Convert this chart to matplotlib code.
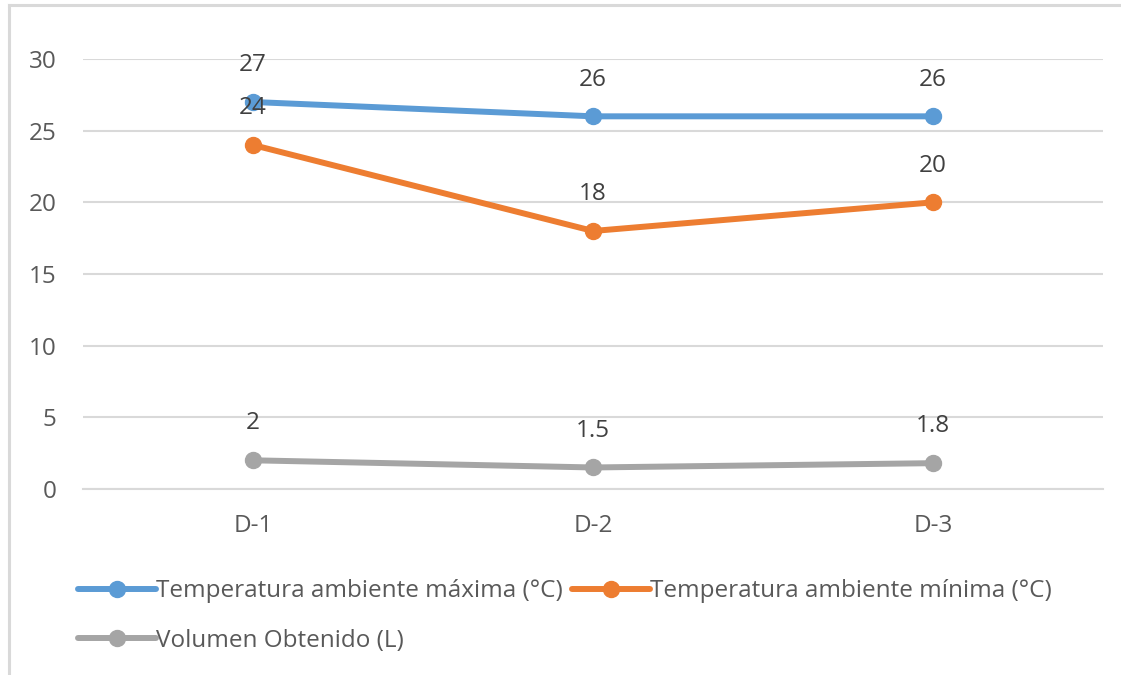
import matplotlib.pyplot as plt
from matplotlib.lines import Line2D

plt.rcParams['font.family'] = ['Open Sans', 'DejaVu Sans']

dias = ["D-1", "D-2", "D-3"]
temp_max = [27, 26, 26]
temp_min = [24, 18, 20]
volumen = [2, 1.5, 1.8]
etiquetas_vol = ["2", "1.5", "1.8"]

nombres = ["Temperatura ambiente máxima (°C)",
           "Temperatura ambiente mínima (°C)",
           "Volumen Obtenido (L)"]
colores = ["#5B9BD5", "#ED7D31", "#A5A5A5"]
txt = "#595959"
fs = 17.5

fig = plt.figure(figsize=(11.21, 6.75), dpi=100)
ax = fig.add_axes([0.074, 0.2756, 0.910, 0.637])

x = list(range(len(dias)))
series = [temp_max, temp_min, volumen]
labels = [[str(v) for v in temp_max], [str(v) for v in temp_min], etiquetas_vol]
handles = []
for ys, c, n, lab in zip(series, colores, nombres, labels):
    h, = ax.plot(x, ys, color=c, lw=4.3, marker='o', ms=11.5, label=n,
                 solid_capstyle='round', zorder=3)
    handles.append(h)
    for xi, yi, t in zip(x, ys, lab):
        ax.annotate(t, (xi, yi), xytext=(0, 26.5), textcoords='offset points',
                    ha='center', va='center', fontsize=fs, color='#404040', zorder=4)

ax.set_xlim(-0.5, 2.5)
ax.set_ylim(0, 30)
ax.set_yticks([0, 5, 10, 15, 20, 25, 30])
ax.set_xticks(x)
ax.set_xticklabels(dias)
ax.yaxis.grid(True, color='#D9D9D9', lw=1.5)
ax.set_axisbelow(True)
for s in ['top', 'right', 'left']:
    ax.spines[s].set_visible(False)
ax.spines['bottom'].set_color('#D9D9D9')
ax.spines['bottom'].set_linewidth(1.5)
ax.tick_params(axis='both', length=0, labelsize=fs, labelcolor=txt)
ax.tick_params(axis='y', pad=19)
ax.tick_params(axis='x', pad=18)

# orden para que queden dos en la primera fila
leg = fig.legend([handles[0], handles[2], handles[1]],
                 [nombres[0], nombres[2], nombres[1]],
                 ncol=2, loc='center left', bbox_to_anchor=(0.050, 0.0875),
                 frameon=False, fontsize=fs, handlelength=3.2, handletextpad=0.0,
                 columnspacing=0.4, labelspacing=1.05)
for t in leg.get_texts():
    t.set_color(txt)

# borde del grafico
fig.add_artist(Line2D([0.008, 1.0], [0.9926, 0.9926], color='#D9D9D9', lw=2.2))
fig.add_artist(Line2D([0.008, 0.008], [0.0, 0.9926], color='#D9D9D9', lw=2.2))

fig.savefig("out.png", dpi=100)
